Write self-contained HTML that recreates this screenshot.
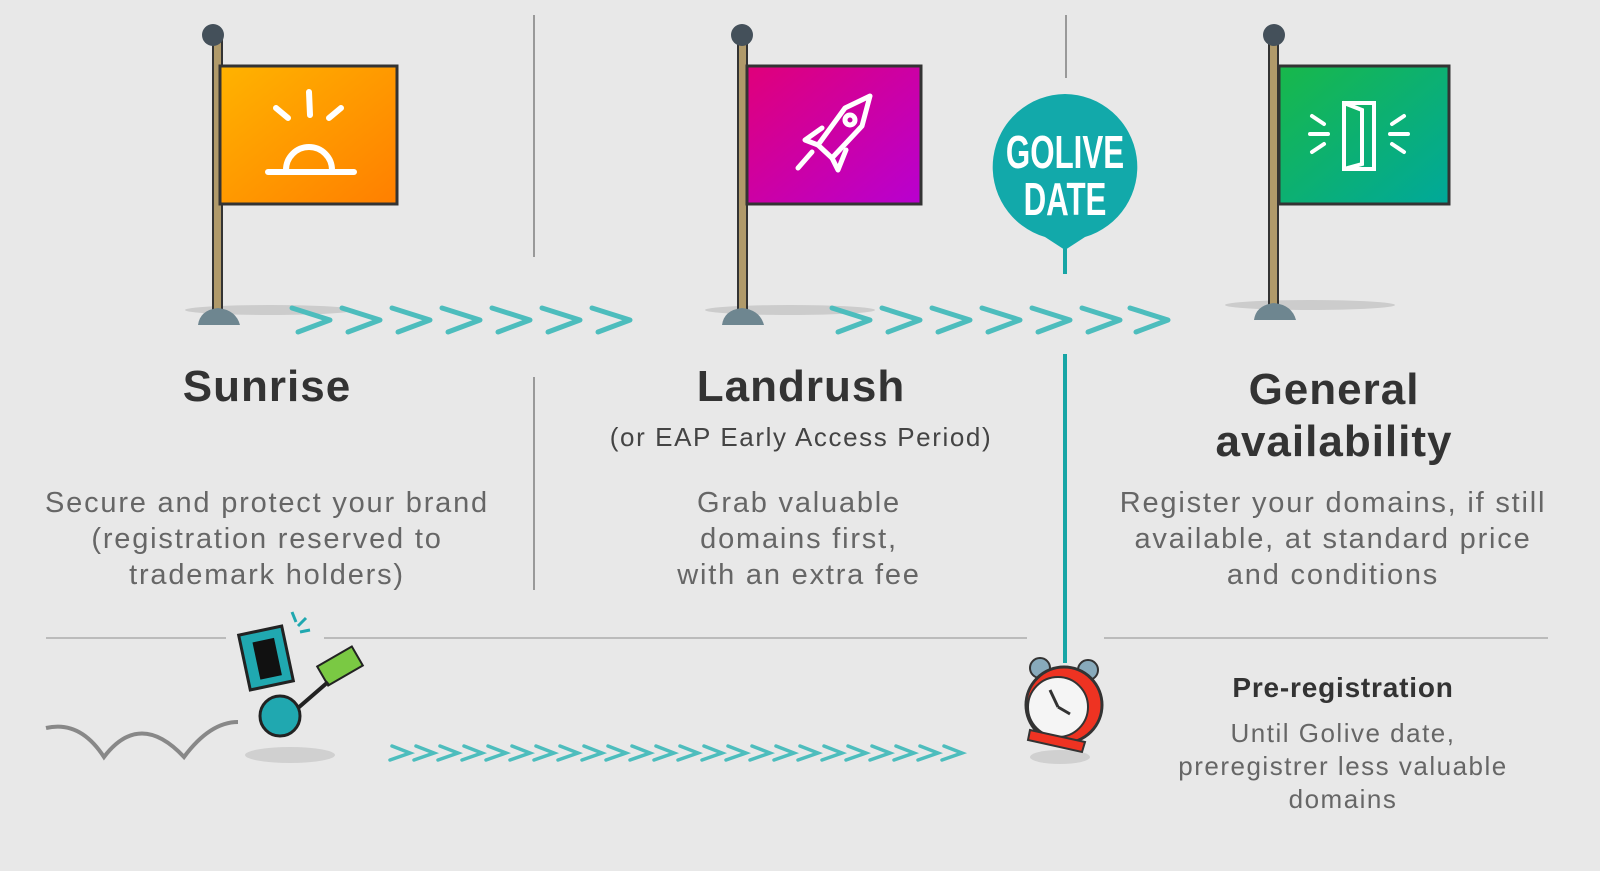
<!DOCTYPE html>
<html><head><meta charset="utf-8"><style>
body{margin:0;width:1600px;height:871px;background:#e8e8e8;overflow:hidden;position:relative;font-family:"Liberation Sans",sans-serif}
.t{position:absolute;text-align:center;white-space:nowrap}
.h{font-weight:bold;font-size:44px;color:#333;letter-spacing:1px}
.b{font-size:29px;color:#666;line-height:36px;letter-spacing:1.8px}
</style></head><body>
<svg width="1600" height="871" style="position:absolute;left:0;top:0">
<defs>
<linearGradient id="go" x1="0" y1="0" x2="1" y2="1"><stop offset="0" stop-color="#ffb300"/><stop offset="1" stop-color="#ff7f00"/></linearGradient>
<linearGradient id="gp" x1="0" y1="0" x2="1" y2="1"><stop offset="0" stop-color="#e0007a"/><stop offset="1" stop-color="#b800d0"/></linearGradient>
<linearGradient id="gg" x1="0" y1="0" x2="1" y2="1"><stop offset="0" stop-color="#18b84a"/><stop offset="1" stop-color="#00a89a"/></linearGradient>
<g id="chev"><path d="M0 12 L32 0 M-6 -12 L32 0" stroke="#4dbdbd" stroke-width="5" fill="none" stroke-linecap="round"/></g>
</defs>
<g stroke="#999" stroke-width="2">
<line x1="534" y1="15" x2="534" y2="257"/><line x1="1066" y1="15" x2="1066" y2="78"/>
<line x1="534" y1="377" x2="534" y2="590"/>
<line x1="46" y1="638" x2="226" y2="638" stroke="#bbb"/><line x1="324" y1="638" x2="1027" y2="638" stroke="#bbb"/><line x1="1104" y1="638" x2="1548" y2="638" stroke="#bbb"/>
</g>
<line x1="1065" y1="354" x2="1065" y2="663" stroke="#17a5a5" stroke-width="4"/>
<line x1="1065" y1="230" x2="1065" y2="274" stroke="#17a5a5" stroke-width="4"/>
<g>
<ellipse cx="270" cy="310" rx="85" ry="5" fill="#ccc"/>
<rect x="213" y="35" width="9" height="280" fill="#b09a6a" stroke="#333" stroke-width="2"/>
<circle cx="213" cy="35" r="11" fill="#44505a"/>
<path d="M198 325 Q200 310 218 308 Q236 310 240 325Z" fill="#6e8690"/>
<rect x="220" y="66" width="177" height="138" fill="url(#go)" stroke="#333" stroke-width="3"/>
<g stroke="#fff" stroke-width="6" fill="none" stroke-linecap="round"><path d="M309 92 L310 115 M276 108 L288 118 M341 108 L329 118 M268 172 L354 172"/><path d="M286 170 A23 23 0 1 1 332 170"/></g>
</g>
<g>
<ellipse cx="790" cy="310" rx="85" ry="5" fill="#ccc"/>
<rect x="738" y="35" width="9" height="280" fill="#b09a6a" stroke="#333" stroke-width="2"/>
<circle cx="742" cy="35" r="11" fill="#44505a"/>
<path d="M722 325 Q724 310 742 308 Q760 310 764 325Z" fill="#6e8690"/>
<rect x="747" y="66" width="174" height="138" fill="url(#gp)" stroke="#333" stroke-width="3"/>
<g stroke="#fff" stroke-width="5" fill="none" stroke-linecap="round" stroke-linejoin="round"><path d="M870 96 L845 108 L818 145 L832 158 L862 126 Z"/><circle cx="850" cy="120" r="5"/><path d="M818 145 L805 140 L822 128 M832 158 L838 170 L846 150 M812 152 L798 168"/></g>
</g>
<g>
<ellipse cx="1310" cy="305" rx="85" ry="5" fill="#ccc"/>
<rect x="1269" y="35" width="9" height="280" fill="#b09a6a" stroke="#333" stroke-width="2"/>
<circle cx="1274" cy="35" r="11" fill="#44505a"/>
<path d="M1254 320 Q1256 305 1274 303 Q1292 305 1296 320Z" fill="#6e8690"/>
<rect x="1279" y="66" width="170" height="138" fill="url(#gg)" stroke="#333" stroke-width="3"/>
<g stroke="#fff" stroke-width="4" fill="none" stroke-linecap="round"><rect x="1344" y="103" width="30" height="66"/><path d="M1344 103 L1362 110 L1362 164 L1344 169"/><path d="M1310 134 L1328 134 M1312 116 L1324 124 M1312 152 L1324 144 M1390 134 L1408 134 M1392 124 L1404 116 M1392 144 L1404 152"/></g>
</g>
<path d="M1065 94 A73 73 0 0 1 1085 237 L1065 250 L1045 237 A73 73 0 0 1 1065 94Z" fill="#12a9aa"/>
<g transform="translate(1065 0) scale(0.68 1)">
<text x="0" y="168" text-anchor="middle" font-family="Liberation Sans,sans-serif" font-weight="bold" font-size="46" fill="#fff">GOLIVE</text>
<text x="0" y="215" text-anchor="middle" font-family="Liberation Sans,sans-serif" font-weight="bold" font-size="46" fill="#fff">DATE</text>
</g>
<g>
<use href="#chev" x="298" y="320"/><use href="#chev" x="348" y="320"/><use href="#chev" x="398" y="320"/><use href="#chev" x="448" y="320"/><use href="#chev" x="498" y="320"/><use href="#chev" x="548" y="320"/><use href="#chev" x="598" y="320"/>
<use href="#chev" x="838" y="320"/><use href="#chev" x="888" y="320"/><use href="#chev" x="938" y="320"/><use href="#chev" x="988" y="320"/><use href="#chev" x="1038" y="320"/><use href="#chev" x="1088" y="320"/><use href="#chev" x="1136" y="320"/>
</g>
<path d="M46 728 Q80 720 104 757 Q140 710 184 757 Q210 722 238 722" stroke="#888" stroke-width="4" fill="none"/>
<ellipse cx="290" cy="755" rx="45" ry="8" fill="#d0d0d0"/>
<rect x="244" y="630" width="44" height="56" fill="#20a8b0" stroke="#222" stroke-width="3" transform="rotate(-12 266 658)"/>
<rect x="256" y="640" width="22" height="38" fill="#111" transform="rotate(-12 266 658)"/>
<circle cx="280" cy="716" r="20" fill="#20a8b0" stroke="#222" stroke-width="3"/>
<rect x="320" y="655" width="40" height="22" fill="#7ac943" stroke="#222" stroke-width="2" transform="rotate(-30 340 666)"/>
<line x1="298" y1="708" x2="328" y2="682" stroke="#222" stroke-width="4"/>
<path d="M292 612 L296 622 M306 618 L298 626 M310 630 L300 632" stroke="#20a8b0" stroke-width="3"/>
<ellipse cx="1060" cy="757" rx="30" ry="7" fill="#d0d0d0"/>
<circle cx="1040" cy="668" r="10" fill="#8ab" stroke="#333" stroke-width="2"/><circle cx="1088" cy="670" r="10" fill="#8ab" stroke="#333" stroke-width="2"/>
<circle cx="1064" cy="705" r="38" fill="#e32" stroke="#333" stroke-width="3"/>
<circle cx="1058" cy="707" r="30" fill="#f5f5f5" stroke="#333" stroke-width="2"/>
<path d="M1058 707 L1050 690 M1058 707 L1070 714" stroke="#333" stroke-width="3"/>
<path d="M1030 730 L1085 742 L1082 752 L1028 740Z" fill="#e32" stroke="#333" stroke-width="2"/>
<g stroke="#4dbdbd" stroke-width="3.5" fill="none" stroke-linecap="round">
<path d="M390 760 L410 753 L392 746 M414 760 L434 753 L416 746 M438 760 L458 753 L440 746 M462 760 L482 753 L464 746 M486 760 L506 753 L488 746 M510 760 L530 753 L512 746 M534 760 L554 753 L536 746 M558 760 L578 753 L560 746 M582 760 L602 753 L584 746 M606 760 L626 753 L608 746 M630 760 L650 753 L632 746 M654 760 L674 753 L656 746 M678 760 L698 753 L680 746 M702 760 L722 753 L704 746 M726 760 L746 753 L728 746 M750 760 L770 753 L752 746 M774 760 L794 753 L776 746 M798 760 L818 753 L800 746 M822 760 L842 753 L824 746 M846 760 L866 753 L848 746 M870 760 L890 753 L872 746 M894 760 L914 753 L896 746 M918 760 L938 753 L920 746 M942 760 L962 753 L944 746"/>
</g>
</svg>
<div class="t h" style="left:67px;width:400px;top:362px">Sunrise</div>
<div class="t h" style="left:601px;width:400px;top:362px">Landrush</div>
<div class="t" style="left:551px;width:500px;top:422px;font-size:26px;color:#444;letter-spacing:1.6px">(or EAP Early Access Period)</div>
<div class="t h" style="left:1134px;width:400px;top:364px;line-height:52px">General<br>availability</div>
<div class="t b" style="left:-3px;width:540px;top:485px">Secure and protect your brand<br>(registration reserved to<br>trademark holders)</div>
<div class="t b" style="left:529px;width:540px;top:485px">Grab valuable<br>domains first,<br>with an extra fee</div>
<div class="t b" style="left:1063px;width:540px;top:485px">Register your domains, if still<br>available, at standard price<br>and conditions</div>
<div class="t" style="left:1143px;width:400px;top:672px;font-size:28px;font-weight:bold;color:#333;letter-spacing:0.8px">Pre-registration</div>
<div class="t" style="left:1093px;width:500px;top:717px;font-size:26px;color:#666;line-height:33px;letter-spacing:1.5px">Until Golive date,<br>preregistrer less valuable<br>domains</div>
</body></html>
